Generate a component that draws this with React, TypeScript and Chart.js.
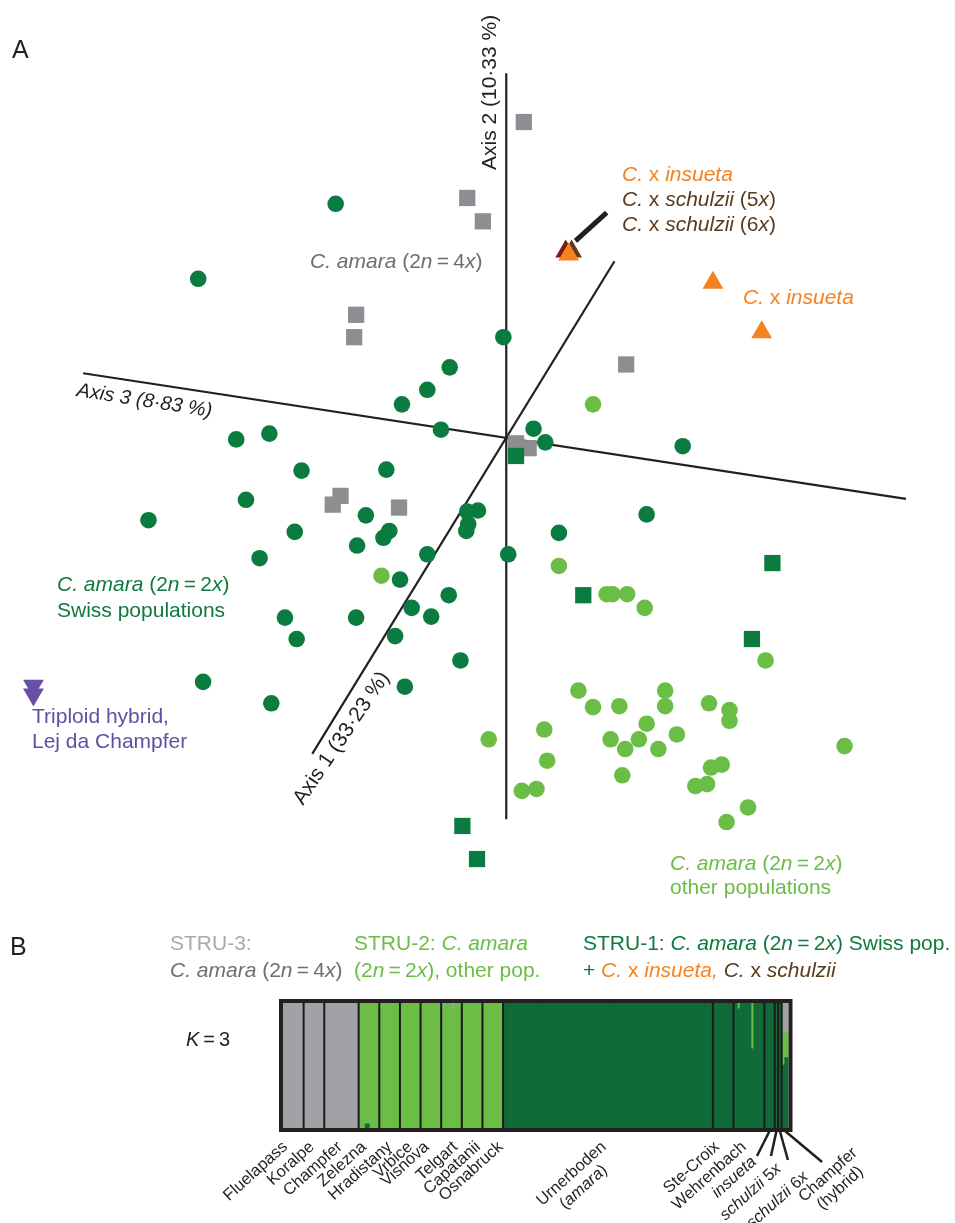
import React, { useEffect, useRef } from "react";
import { Chart, registerables } from "chart.js";

Chart.register(...registerables);

const FONT = '"Liberation Sans", Arial, Helvetica, sans-serif';

// ---------------- Panel A: PCoA scores projected on the page plane ----------------
// units: origin at the crossing of the three axes, y pointing up
const swissDiploid: [number, number][] = [
  [-175, 240], [-316, 163], [-58, 72], [-81, 49], [-107, 34], [-67, 8], [-243, 4], [-277, -2],
  [-3, 103], [28, 9], [40, -5], [181, -9], [144, -79], [54, -98], [2, -120],
  [-29, -75], [-40, -76], [-39, -89], [-41, -96],
  [-210, -34], [-123, -33], [-267, -64], [-367, -85], [-144, -80], [-217, -97], [-120, -96],
  [-126, -103], [-153, -111], [-253, -124], [-81, -120], [-109, -146], [-59, -162],
  [-227, -185], [-154, -185], [-97, -175], [-77, -184], [-215, -207], [-114, -204],
  [-47, -229], [-311, -251], [-104, -256], [-241, -273],
];
const otherDiploid: [number, number][] = [
  [89, 34], [-128, -142], [54, -132], [103, -161], [109, -161], [124, -161], [142, -175],
  [266, -229], [74, -260], [89, -277], [116, -276], [163, -260], [163, -276], [208, -273],
  [229, -280], [229, -291], [39, -300], [144, -294], [175, -305], [107, -310], [136, -310],
  [122, -320], [156, -320], [-18, -310], [347, -317], [42, -332], [210, -339], [221, -336],
  [119, -347], [194, -358], [206, -356], [16, -363], [31, -361], [248, -380], [226, -395],
];
const tetraploid: [number, number][] = [
  [18, 324], [-40, 246], [-24, 222], [-154, 126], [-156, 103], [123, 75], [10, -6], [23, -11],
  [-170, -60], [-178, -69], [-110, -72],
];
const diploidSquares: [number, number][] = [
  [10, -19], [79, -162], [273, -129], [252, -207], [-45, -399], [-30, -433],
];
const insuetaPts: [number, number][] = [[64, 188], [212, 159], [262, 108]];
const schulzii5xPts: [number, number][] = [[61, 191]];
const schulzii6xPts: [number, number][] = [[67, 191]];
const triploidHybridPts: [number, number][] = [[-485, -255], [-485, -264]];

const axis1: [number, number][] = [[-199, -325], [111, 181]];
const axis2: [number, number][] = [[0, 374], [0, -392]];
const axis3: [number, number][] = [[-434, 66], [410, -63]];
const pointerLine: [number, number][] = [[71, 202], [103, 231]];
const axisTitles = ["Axis 1 (33\u00b723 %)", "Axis 2 (10\u00b733 %)", "Axis 3 (8\u00b783 %)"];

// ---------------- Panel B: STRUCTURE, K = 3 ----------------
const populations = [
  "Fluelapass", "Koralpe", "Champfer", "Zelezna", "Hradistany", "Vrbice", "Visnova", "Telgart",
  "Capatanii", "Osnabruck", "Urnerboden (amara)", "Ste-Croix", "Wehrenbach", "insueta",
  "schulzii 5x", "schulzii 6x", "Champfer (hybrid)",
];
const popLabelLines: string[][] = [
  ["Fluelapass"], ["Koralpe"], ["Champfer"], ["Zelezna"], ["Hradistany"], ["Vrbice"], ["Visnova"],
  ["Telgart"], ["Capatanii"], ["Osnabruck"], ["Urnerboden", "(_amara_)"], ["Ste-Croix"],
  ["Wehrenbach"], ["_insueta_"], ["_schulzii_ 5_x_"], ["_schulzii_ 6_x_"], ["Champfer", "(hybrid)"],
];
const popSizes = [6, 6, 10, 6, 6, 6, 6, 6, 6, 6, 61, 6, 9, 3, 1, 1, 2];
// main cluster of each population: 0 = STRU-1, 1 = STRU-2, 2 = STRU-3
const popCluster = [2, 2, 2, 1, 1, 1, 1, 1, 1, 1, 0, 0, 0, 0, 0, 0, 0];
// admixed individuals: [population, index in population, q(STRU-1), q(STRU-2), q(STRU-3)]
const admixed: [string, number, number, number, number][] = [
  ["Zelezna", 2, 0.03, 0.97, 0],
  ["Telgart", 0, 0, 0.95, 0.05],
  ["Telgart", 3, 0, 0.94, 0.06],
  ["Wehrenbach", 1, 0.95, 0.05, 0],
  ["Wehrenbach", 5, 0.63, 0.37, 0],
  ["Champfer (hybrid)", 0, 0.5, 0.26, 0.24],
  ["Champfer (hybrid)", 1, 0.56, 0.2, 0.24],
];
const clusterNames = ["STRU-1", "STRU-2", "STRU-3"];

// ---------------- styles ----------------
const C = {
  ink: "#231F20",
  dkPt: "#0B7C3F",
  ltPt: "#6BBE45",
  grayPt: "#8D8E92",
  orange: "#F58220",
  purple: "#6A50A4",
  s5: "#7A1A14",
  s6: "#5E3A1C",
  barS1: "#106B38",
  barS2: "#6BBD45",
  barS3: "#A1A2A6",
  txtSwiss: "#0E7A3E",
  txtLight: "#6ABD45",
  txtGrayLight: "#A7A9AC",
  txtGray: "#6D6E71",
  txtBrown: "#5A3C1E",
  txtPurple: "#5B52A3",
};

type Run = { t: string; i: boolean; c?: string };
const rich = (s: string, c?: string): Run[] =>
  s.split("_").map((t, k) => ({ t, i: k % 2 === 1, c })).filter((r) => r.t.length > 0);
const fontOf = (italic: boolean, size: number) => `${italic ? "italic " : ""}${size}px ${FONT}`;
function runsWidth(ctx: CanvasRenderingContext2D, runs: Run[], size: number) {
  let w = 0;
  for (const r of runs) {
    ctx.font = fontOf(r.i, size);
    w += ctx.measureText(r.t).width;
  }
  return w;
}
function drawRuns(ctx: CanvasRenderingContext2D, runs: Run[], x: number, y: number, size: number, color: string) {
  let cx = x;
  ctx.textAlign = "left";
  ctx.textBaseline = "alphabetic";
  for (const r of runs) {
    ctx.font = fontOf(r.i, size);
    ctx.fillStyle = r.c || color;
    ctx.fillText(r.t, cx, y);
    cx += ctx.measureText(r.t).width;
  }
}
function drawRotated(ctx: CanvasRenderingContext2D, runs: Run[], x: number, y: number, deg: number, size: number, color: string) {
  ctx.save();
  ctx.translate(x, y);
  ctx.rotate((deg * Math.PI) / 180);
  drawRuns(ctx, runs, 0, 0, size, color);
  ctx.restore();
}

const TH = "\u2009=\u2009";
const FS = 21;

// text layout of panel A (page pixels)
const textA: { lines: string[]; x: number; y: number; color: string; lh?: number }[] = [
  { lines: [`_C. amara_ (2_n_${TH}4_x_)`], x: 310, y: 268, color: C.txtGray },
  { lines: ["_C._ x _insueta_"], x: 622, y: 181, color: C.orange },
  { lines: [`_C._ x _schulzii_ (5_x_)`, `_C._ x _schulzii_ (6_x_)`], x: 622, y: 206, color: C.txtBrown, lh: 25 },
  { lines: ["_C._ x _insueta_"], x: 743, y: 304, color: C.orange },
  { lines: [`_C. amara_ (2_n_${TH}2_x_)`, "Swiss populations"], x: 57, y: 591, color: C.txtSwiss, lh: 26 },
  { lines: ["Triploid hybrid,", "Lej da Champfer"], x: 32, y: 723, color: C.txtPurple, lh: 25 },
  { lines: [`_C. amara_ (2_n_${TH}2_x_)`, "other populations"], x: 670, y: 870, color: C.txtLight, lh: 24 },
];

const pts = (a: [number, number][]) => a.map(([x, y]) => ({ x, y }));

function PanelA() {
  const ref = useRef<HTMLCanvasElement>(null);
  useEffect(() => {
    const textPlugin = {
      id: "textA",
      afterDatasetsDraw(chart: any) {
        const ctx: CanvasRenderingContext2D = chart.ctx;
        ctx.save();
        drawRuns(ctx, rich("A"), 12, 58, 25, C.ink);
        for (const t of textA) {
          t.lines.forEach((l, k) => drawRuns(ctx, rich(l), t.x, t.y + k * (t.lh || 25), FS, t.color));
        }
        drawRotated(ctx, rich(axisTitles[1]), 496, 170, -90, FS, C.ink);
        drawRotated(ctx, rich("_" + axisTitles[2] + "_"), 76, 396, 8.8, 20, C.ink);
        drawRotated(ctx, rich(axisTitles[0]), 303, 806, -56, FS, C.ink);
        ctx.restore();
      },
    };
    const line = (d: [number, number][], w: number) => ({
      data: pts(d),
      showLine: true,
      borderColor: C.ink,
      borderWidth: w,
      pointRadius: 0,
      order: 10,
    });
    const chart = new Chart(ref.current as HTMLCanvasElement, {
      type: "scatter",
      data: {
        datasets: [
          { label: "C. x insueta", data: pts(insuetaPts), pointStyle: "triangle", pointRadius: 12, backgroundColor: C.orange, borderWidth: 0, order: 1 },
          { label: "Triploid hybrid", data: pts(triploidHybridPts), pointStyle: "triangle", pointRotation: 180, pointRadius: 12, backgroundColor: C.purple, borderWidth: 0, order: 1 },
          { label: "C. x schulzii 5x", data: pts(schulzii5xPts), pointStyle: "triangle", pointRadius: 12, backgroundColor: C.s5, borderWidth: 0, order: 2 },
          { label: "C. x schulzii 6x", data: pts(schulzii6xPts), pointStyle: "triangle", pointRadius: 12, backgroundColor: C.s6, borderWidth: 0, order: 2 },
          { label: "C. amara 2x squares", data: pts(diploidSquares), pointStyle: "rect", pointRadius: 11.5, backgroundColor: C.dkPt, borderWidth: 0, order: 3 },
          { label: "C. amara 4x", data: pts(tetraploid), pointStyle: "rect", pointRadius: 11.5, backgroundColor: C.grayPt, borderWidth: 0, order: 4 },
          { label: "C. amara 2x Swiss", data: pts(swissDiploid), pointStyle: "circle", pointRadius: 8.3, backgroundColor: C.dkPt, borderWidth: 0, order: 5 },
          { label: "C. amara 2x other", data: pts(otherDiploid), pointStyle: "circle", pointRadius: 8.3, backgroundColor: C.ltPt, borderWidth: 0, order: 6 },
          { label: axisTitles[0], ...line(axis1, 2.2) },
          { label: axisTitles[1], ...line(axis2, 2.2) },
          { label: axisTitles[2], ...line(axis3, 2.2) },
          { label: "pointer", ...line(pointerLine, 5) },
        ] as any,
      },
      options: {
        responsive: false,
        maintainAspectRatio: false,
        animation: false,
        events: [],
        layout: { padding: 0 },
        plugins: { legend: { display: false }, tooltip: { enabled: false } },
        scales: {
          x: { type: "linear", display: false, min: -507, max: 448 },
          y: { type: "linear", display: false, min: -473, max: 437 },
        },
      },
      plugins: [textPlugin],
    });
    return () => chart.destroy();
  }, []);
  return <canvas ref={ref} width={955} height={910} style={{ position: "absolute", left: 0, top: 0, width: 955, height: 910 }} />;
}

// label nudges (px) for the 13 directly labelled populations
const labelNudge = [-5, 1, 1.5, -2, 3, 3, -1, 7, 9, 11, -1, -3, -2];
// leader lines for the last four populations: [end dx, end dy, label dx, label dy]
const leaderLayout = [
  [-12.6, 28, -12.6, 35],
  [-5.5, 28, 5.5, 42],
  [8, 32, 29, 50],
  [37, 34, 73, 26],
];

function PanelB() {
  const ref = useRef<HTMLCanvasElement>(null);
  useEffect(() => {
    const starts: number[] = [];
    popSizes.reduce((acc, n) => {
      starts.push(acc);
      return acc + n;
    }, 0);
    const total = popSizes.reduce((a, b) => a + b, 0);
    const q: number[][] = [];
    popSizes.forEach((n, p) => {
      for (let k = 0; k < n; k++) {
        const v = [0, 0, 0];
        v[popCluster[p]] = 1;
        q.push(v);
      }
    });
    for (const [pop, k, a, b, c] of admixed) {
      q[starts[populations.indexOf(pop)] + k] = [a, b, c];
    }
    const colors = [C.barS1, C.barS2, C.barS3];

    const deco = {
      id: "decoB",
      afterDatasetsDraw(chart: any) {
        const ctx: CanvasRenderingContext2D = chart.ctx;
        const xs = chart.scales.x;
        const a = chart.chartArea;
        ctx.save();
        // population separators
        ctx.strokeStyle = "#1A1A1A";
        ctx.lineWidth = 2;
        for (let p = 1; p < popSizes.length; p++) {
          const x = xs.getPixelForValue(starts[p] - 0.5);
          ctx.beginPath();
          ctx.moveTo(x, a.top);
          ctx.lineTo(x, a.bottom);
          ctx.stroke();
        }
        // frame
        ctx.strokeStyle = C.ink;
        ctx.lineWidth = 4;
        ctx.strokeRect(a.left - 2, a.top - 2, a.right - a.left + 4, a.bottom - a.top + 4);
        // population labels
        const ang = -42;
        const size = 16.5;
        const lh = 18;
        const drawLabel = (lines: string[], x: number, y: number) => {
          ctx.save();
          ctx.translate(x, y);
          ctx.rotate((ang * Math.PI) / 180);
          const runs = lines.map((l) => rich(l));
          const w0 = runsWidth(ctx, runs[0], size);
          runs.forEach((r, k) => {
            const w = runsWidth(ctx, r, size);
            const xEnd = k === 0 ? 0 : -(w0 - w) / 2;
            drawRuns(ctx, r, xEnd - w, k * lh, size, C.ink);
          });
          ctx.restore();
        };
        popLabelLines.forEach((lines, p) => {
          const cx = xs.getPixelForValue(starts[p] + (popSizes[p] - 1) / 2);
          if (p < labelNudge.length) {
            drawLabel(lines, cx + labelNudge[p], a.bottom + 20);
          } else {
            const [ex, ey, lx, ly] = leaderLayout[p - labelNudge.length];
            ctx.strokeStyle = C.ink;
            ctx.lineWidth = 2.5;
            ctx.beginPath();
            ctx.moveTo(cx, a.bottom + 3);
            ctx.lineTo(cx + ex, a.bottom + ey);
            ctx.stroke();
            drawLabel(lines, cx + lx, a.bottom + ly);
          }
        });
        // headings
        drawRuns(ctx, rich("B"), 10, 45, 25, C.ink);
        drawRuns(ctx, rich("STRU-3:"), 170, 40, FS, C.txtGrayLight);
        drawRuns(ctx, rich(`_C. amara_ (2_n_${TH}4_x_)`), 170, 67, FS, C.txtGray);
        drawRuns(ctx, rich("STRU-2: _C. amara_"), 354, 40, FS, C.txtLight);
        drawRuns(ctx, rich(`(2_n_${TH}2_x_), other pop.`), 354, 67, FS, C.txtLight);
        drawRuns(ctx, rich(`STRU-1: _C. amara_ (2_n_${TH}2_x_) Swiss pop.`), 583, 40, FS, C.txtSwiss);
        drawRuns(
          ctx,
          [...rich("+ ", C.txtSwiss), ...rich("_C._ x _insueta,_ ", C.orange), ...rich("_C._ x _schulzii_", C.txtBrown)],
          583, 67, FS, C.txtSwiss
        );
        drawRuns(ctx, rich(`_K_${TH}3`), 186, 136, 20, C.ink);
        ctx.restore();
      },
    };

    const chart = new Chart(ref.current as HTMLCanvasElement, {
      type: "bar",
      data: {
        datasets: clusterNames.map((name, k) => ({
          label: name,
          data: q.map((v, i) => ({ x: i, y: v[k] > 0 ? v[k] : null })),
          backgroundColor: colors[k],
          borderWidth: 0,
          barPercentage: 1,
          categoryPercentage: 1,
          inflateAmount: 0.7,
        })),
      },
      options: {
        responsive: false,
        maintainAspectRatio: false,
        animation: false,
        events: [],
        layout: { padding: { left: 283, right: 166.5, top: 93, bottom: 95 } },
        plugins: { legend: { display: false }, tooltip: { enabled: false } },
        scales: {
          x: { type: "linear", display: false, stacked: true, offset: false, min: -0.5, max: total - 0.5 },
          y: { type: "linear", display: false, stacked: true, min: 0, max: 1 },
        },
      },
      plugins: [deco],
    });
    return () => chart.destroy();
  }, []);
  return <canvas ref={ref} width={955} height={313} style={{ position: "absolute", left: 0, top: 910, width: 955, height: 313 }} />;
}

export default function App() {
  return (
    <div style={{ position: "absolute", left: 0, top: 0, width: 955, height: 1223, background: "#fff" }}>
      <PanelA />
      <PanelB />
    </div>
  );
}
